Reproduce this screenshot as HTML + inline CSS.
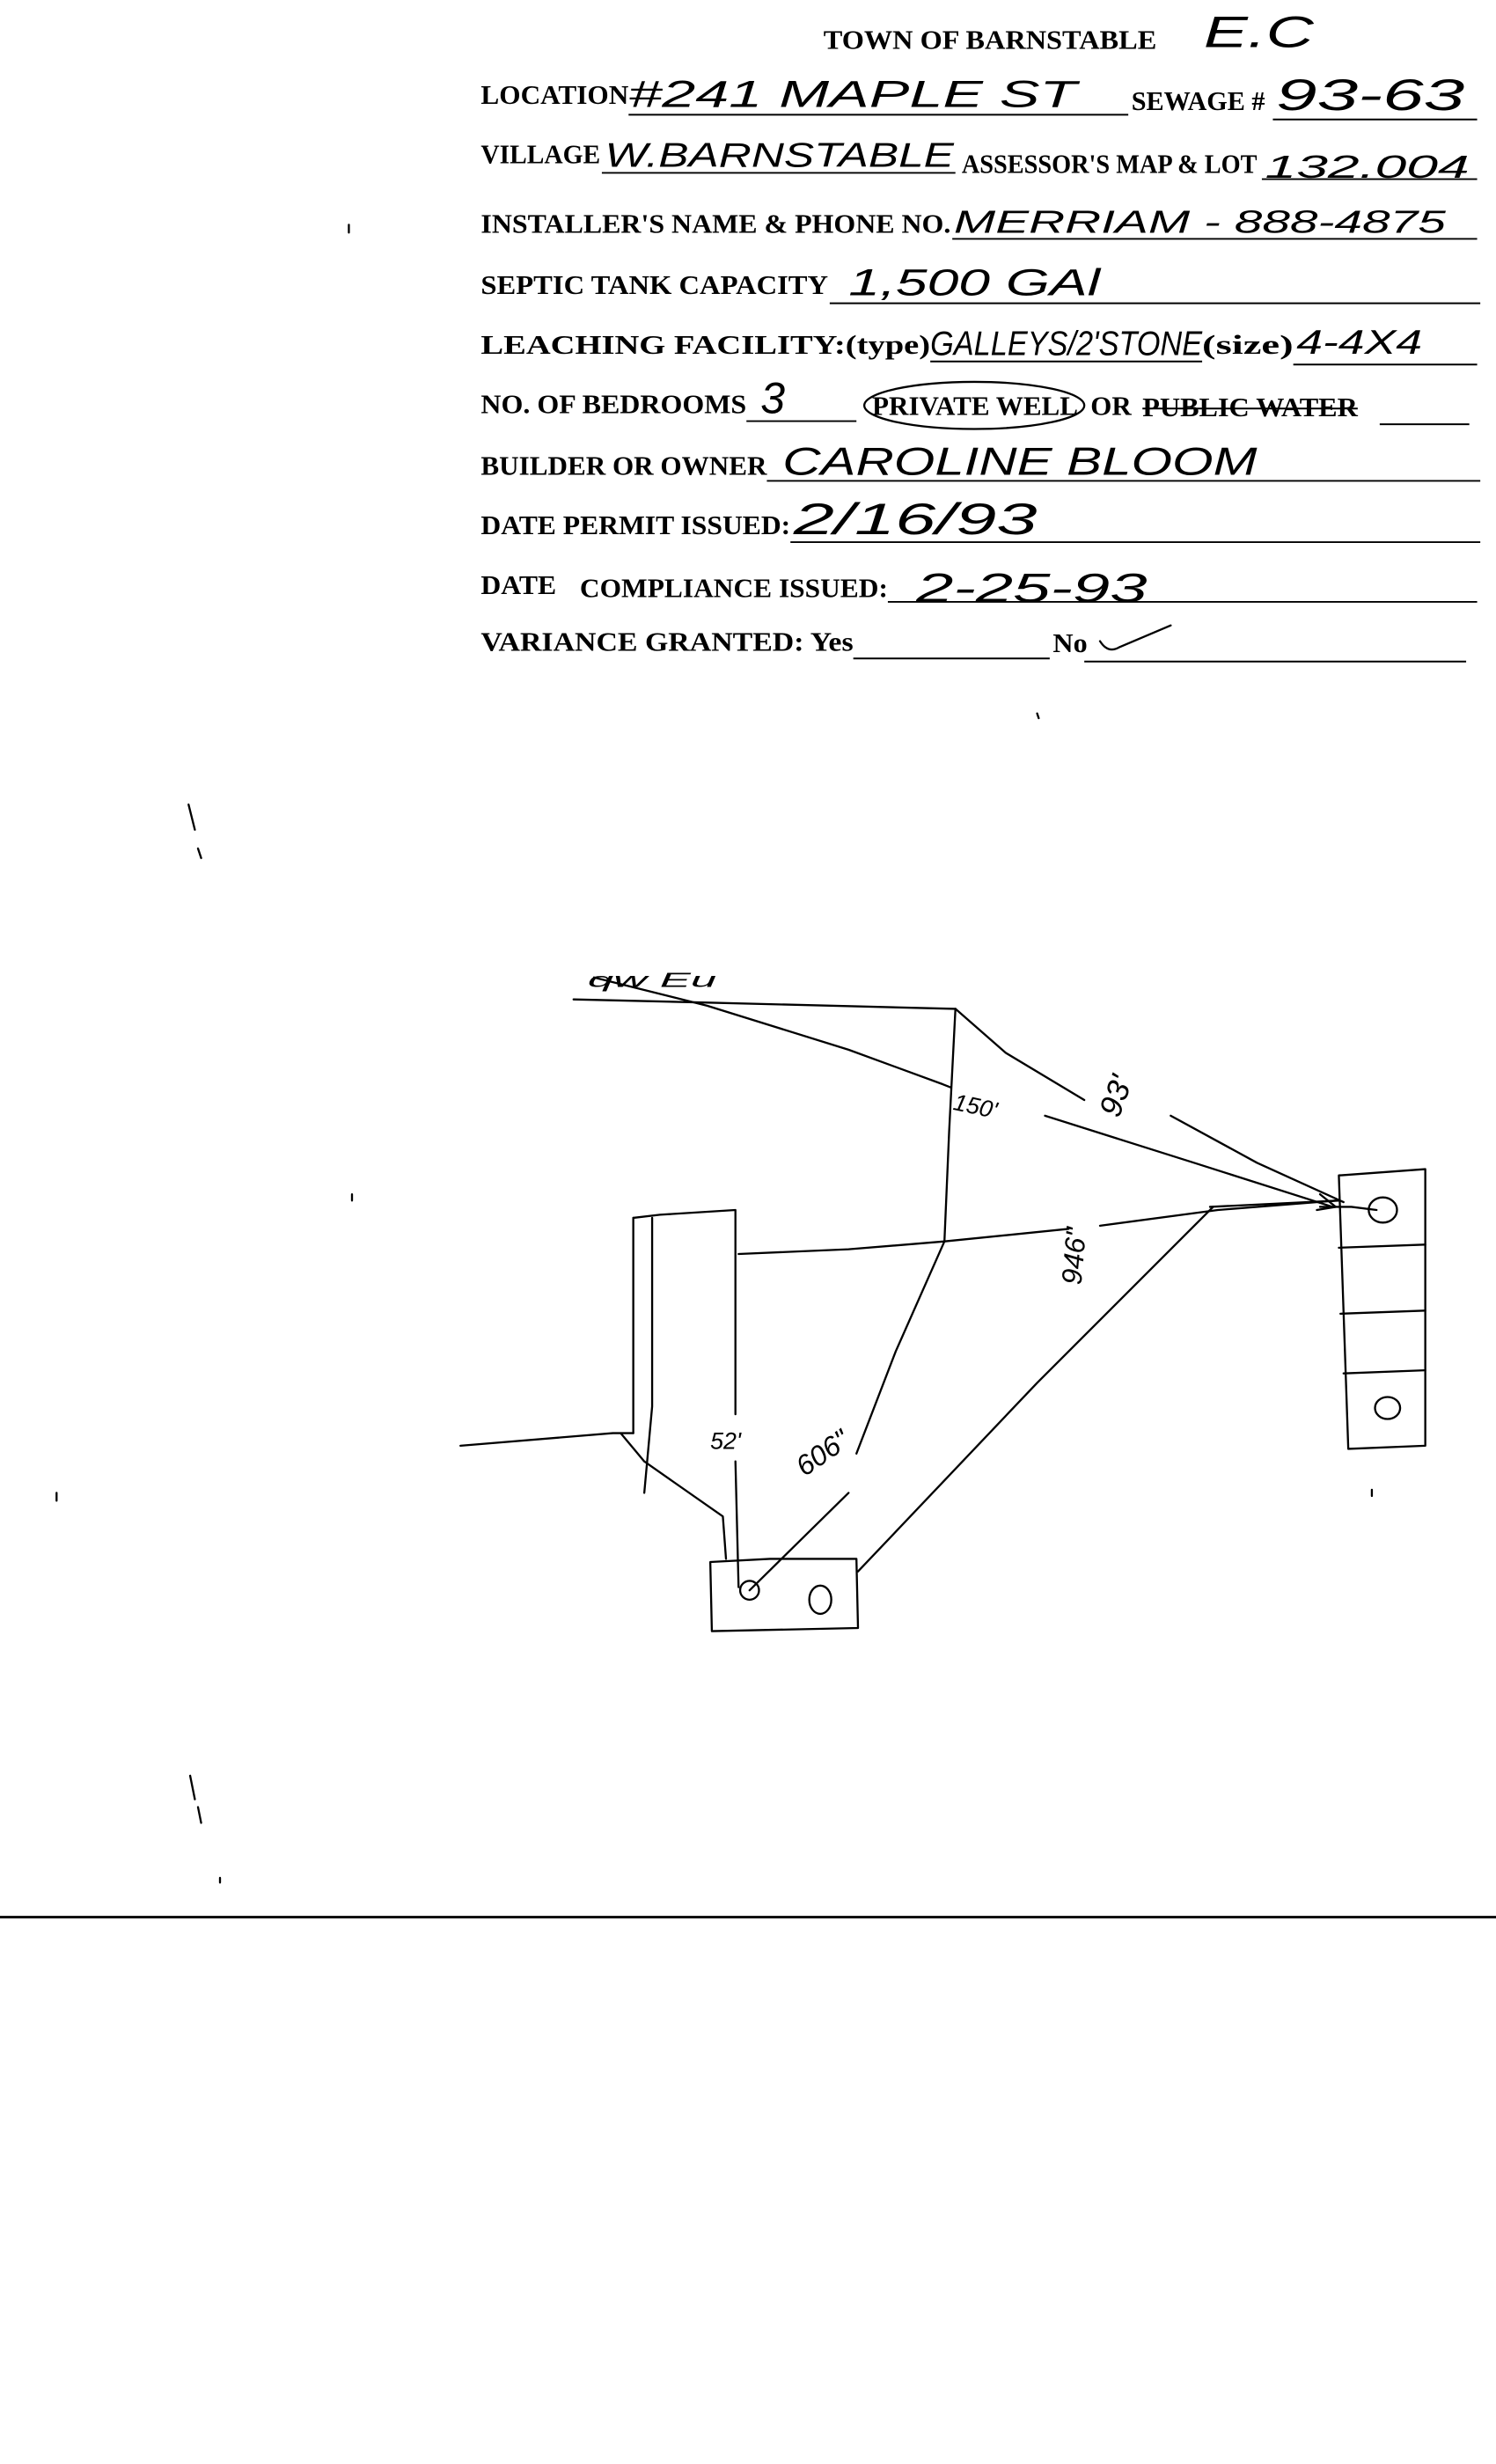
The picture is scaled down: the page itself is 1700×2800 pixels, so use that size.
<!DOCTYPE html>
<html><head><meta charset="utf-8"><style>
html,body{margin:0;padding:0;background:#fff;}
svg{display:block;}
.t{font-family:"Liberation Serif",serif;font-weight:bold;font-size:17px;fill:#000;}
.h{font-family:"Liberation Sans",sans-serif;fill:#000;font-style:italic;}
.l{stroke:#000;stroke-width:1.1;fill:none;}
.d{stroke:#000;stroke-width:1.3;fill:none;stroke-linecap:round;stroke-linejoin:round;}
</style></head><body>
<svg width="1700" height="2800" viewBox="0 0 952 1568" xmlns="http://www.w3.org/2000/svg">
<rect width="952" height="1568" fill="#fff"/>
<text class="t" x="524" y="31" textLength="212" lengthAdjust="spacingAndGlyphs">TOWN OF BARNSTABLE</text>
<text class="h" x="766" y="30" font-size="28" textLength="70" lengthAdjust="spacingAndGlyphs">E.C</text>

<text class="t" x="306" y="66" textLength="94" lengthAdjust="spacingAndGlyphs">LOCATION</text>
<text class="h" x="400" y="68" font-size="24" textLength="285" lengthAdjust="spacingAndGlyphs">#241 MAPLE ST</text>
<line class="l" x1="400" y1="73" x2="718" y2="73"/>
<text class="t" x="720" y="70" textLength="85" lengthAdjust="spacingAndGlyphs">SEWAGE #</text>
<text class="h" x="812" y="70" font-size="28" textLength="120" lengthAdjust="spacingAndGlyphs">93-63</text>
<line class="l" x1="810" y1="76" x2="940" y2="76"/>

<text class="t" x="306" y="104" textLength="76" lengthAdjust="spacingAndGlyphs">VILLAGE</text>
<text class="h" x="385" y="106" font-size="22" textLength="222" lengthAdjust="spacingAndGlyphs">W.BARNSTABLE</text>
<line class="l" x1="383" y1="110" x2="608" y2="110"/>
<text class="t" x="612" y="110" textLength="188" lengthAdjust="spacingAndGlyphs">ASSESSOR'S MAP &amp; LOT</text>
<text class="h" x="805" y="113" font-size="20" textLength="130" lengthAdjust="spacingAndGlyphs">132.004</text>
<line class="l" x1="803" y1="114" x2="940" y2="114"/>

<text class="t" x="306" y="148" textLength="299" lengthAdjust="spacingAndGlyphs">INSTALLER'S NAME &amp; PHONE NO.</text>
<text class="h" x="607" y="148" font-size="20" textLength="313" lengthAdjust="spacingAndGlyphs">MERRIAM - 888-4875</text>
<line class="l" x1="606" y1="152" x2="940" y2="152"/>

<text class="t" x="306" y="187" textLength="221" lengthAdjust="spacingAndGlyphs">SEPTIC TANK CAPACITY</text>
<text class="h" x="540" y="188" font-size="24" textLength="160" lengthAdjust="spacingAndGlyphs">1,500 GAl</text>
<line class="l" x1="528" y1="193" x2="942" y2="193"/>

<text class="t" x="306" y="225" textLength="286" lengthAdjust="spacingAndGlyphs">LEACHING FACILITY:(type)</text>
<text class="h" x="592" y="226" font-size="22" textLength="173" lengthAdjust="spacingAndGlyphs">GALLEYS/2'STONE</text>
<line class="l" x1="592" y1="230" x2="765" y2="230"/>
<text class="t" x="765" y="225" textLength="58" lengthAdjust="spacingAndGlyphs">(size)</text>
<text class="h" x="825" y="225" font-size="22" textLength="80" lengthAdjust="spacingAndGlyphs">4-4X4</text>
<line class="l" x1="823" y1="232" x2="940" y2="232"/>

<text class="t" x="306" y="263" textLength="169" lengthAdjust="spacingAndGlyphs">NO. OF BEDROOMS</text>
<text class="h" x="484" y="263" font-size="28">3</text>
<line class="l" x1="475" y1="268" x2="545" y2="268"/>
<text class="t" x="555" y="264" textLength="131" lengthAdjust="spacingAndGlyphs">PRIVATE WELL</text>
<ellipse class="d" cx="620" cy="258" rx="70" ry="15"/>
<text class="t" x="694" y="264" textLength="26" lengthAdjust="spacingAndGlyphs">OR</text>
<text class="t" x="727" y="265" textLength="137" lengthAdjust="spacingAndGlyphs">PUBLIC WATER</text>
<line class="l" x1="727" y1="260" x2="864" y2="260" stroke-width="1.6"/>
<line class="l" x1="878" y1="270" x2="935" y2="270"/>

<text class="t" x="306" y="302" textLength="182" lengthAdjust="spacingAndGlyphs">BUILDER OR OWNER</text>
<text class="h" x="498" y="302" font-size="25" textLength="302" lengthAdjust="spacingAndGlyphs">CAROLINE BLOOM</text>
<line class="l" x1="488" y1="306" x2="942" y2="306"/>

<text class="t" x="306" y="340" textLength="197" lengthAdjust="spacingAndGlyphs">DATE PERMIT ISSUED:</text>
<text class="h" x="505" y="340" font-size="28" textLength="155" lengthAdjust="spacingAndGlyphs">2/16/93</text>
<line class="l" x1="503" y1="345" x2="942" y2="345"/>

<text class="t" x="306" y="378" textLength="48" lengthAdjust="spacingAndGlyphs">DATE</text>
<text class="t" x="369" y="380" textLength="196" lengthAdjust="spacingAndGlyphs">COMPLIANCE ISSUED:</text>
<text class="h" x="583" y="383" font-size="26" textLength="147" lengthAdjust="spacingAndGlyphs">2-25-93</text>
<line class="l" x1="565" y1="383" x2="940" y2="383"/>

<text class="t" x="306" y="414" textLength="237" lengthAdjust="spacingAndGlyphs">VARIANCE GRANTED:  Yes</text>
<line class="l" x1="543" y1="419" x2="668" y2="419"/>
<text class="t" x="670" y="415" textLength="22" lengthAdjust="spacingAndGlyphs">No</text>
<path class="d" d="M700 408 Q705 416 712 412 L745 398"/>
<line class="l" x1="690" y1="421" x2="933" y2="421"/>

<line x1="0" y1="1220" x2="952" y2="1220" stroke="#000" stroke-width="1.6"/>

<text class="h" x="374" y="628" font-size="13" textLength="82" lengthAdjust="spacingAndGlyphs">qw Eu</text>
<path class="d" d="M365 636 L450 638 L608 642"/>
<path class="d" d="M378 622 L450 640 L540 668 L600 690 L605 692"/>
<text class="h" x="606" y="706" font-size="15" transform="rotate(12 606 706)">150'</text>
<path class="d" d="M665 710 L760 740 L848 768"/>
<path class="d" d="M840 760 L850 768 L838 770"/>
<path class="d" d="M608 642 L640 670 L690 700"/>
<text class="h" x="712" y="712" font-size="20" transform="rotate(-70 712 712)">93'</text>
<path class="d" d="M745 710 L800 740 L855 765"/>
<path class="d" d="M608 642 L604 720 L601 790"/>
<path class="d" d="M470 798 L540 795 L601 790 L680 782"/>
<text class="h" x="688" y="818" font-size="18" transform="rotate(-85 688 818)">946"</text>
<path class="d" d="M700 780 L775 770 L850 764"/>
<path class="d" d="M770 768 L852 764 M840 768 L860 768 L876 770"/>
<path class="d" d="M403 775 L420 773 L468 770 L468 800 L468 900"/>
<path class="d" d="M403 775 L403 912"/>
<path class="d" d="M415 775 L415 895 L410 950"/>
<path class="d" d="M293 920 L390 912 L403 912"/>
<path class="d" d="M395 912 L410 930 L460 965 L462 992"/>
<text class="h" x="452" y="922" font-size="15">52'</text>
<path class="d" d="M468 930 L470 1010"/>
<path class="d" d="M601 790 L570 860 L545 925"/>
<text class="h" x="512" y="940" font-size="18" transform="rotate(-35 512 940)">606"</text>
<path class="d" d="M540 950 L477 1012"/>
<path class="d" d="M452 994 L490 992 L545 992 L546 1036 L453 1038 Z"/>
<circle class="d" cx="477" cy="1012" r="6"/>
<ellipse class="d" cx="522" cy="1018" rx="7" ry="9"/>
<path class="d" d="M546 1000 L660 880 L772 768"/>
<path class="d" d="M852 748 L907 744 L907 920 L858 922 L852 748"/>
<path class="d" d="M852 794 L907 792 M853 836 L907 834 M855 874 L907 872"/>
<ellipse class="d" cx="880" cy="770" rx="9" ry="8"/>
<ellipse class="d" cx="883" cy="896" rx="8" ry="7"/>
<path class="d" d="M222 143 L222 148 M120 512 L124 528 M126 540 L128 546 M224 760 L224 764 M36 950 L36 955 M121 1130 L124 1145 M126 1150 L128 1160 M873 948 L873 952 M660 454 L661 457 M140 1195 L140 1198"/>
</svg>
</body></html>
